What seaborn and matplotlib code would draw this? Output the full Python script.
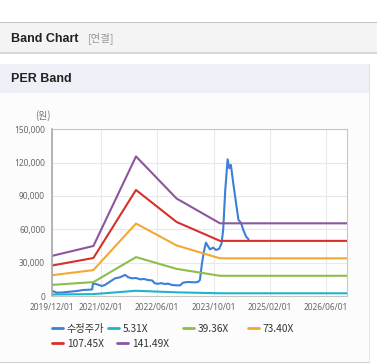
import matplotlib
matplotlib.use('Agg')
import matplotlib.pyplot as plt
from matplotlib.patches import Rectangle
from matplotlib.lines import Line2D
import pandas as pd
import seaborn as sns

W, H = 377, 364

# adjusted share price (months counted from the left edge of the plot)
price_month = [0, 0.5, 1.2, 2.7, 4.5, 6.2, 7.7, 9.5, 10.0, 10.2, 11.2, 12.4, 13.2,
               14.4, 15.7, 16.9, 18.2, 18.9, 19.9, 20.9, 21.9, 22.9, 23.9, 24.9,
               25.6, 26.4, 27.1, 28.1, 28.9, 29.9, 30.9, 31.9, 32.6, 33.8, 35.6,
               36.3, 36.8, 37.3, 37.8, 38.3, 39.3, 40.1, 40.8, 41.6, 42.2, 42.6,
               43.1, 43.7, 44.1, 44.5, 45.1, 45.8, 46.4, 47.0, 47.6, 48.3, 48.9]
price_value = [4500, 4000, 3000, 3200, 3900, 4500, 5400, 5700, 6000, 11400, 10500,
               9000, 10000, 12900, 15900, 16800, 19000, 17000, 15900, 16200, 15000,
               15300, 14400, 14000, 11400, 11000, 11600, 10800, 11100, 9900, 9600,
               9600, 12000, 12600, 12300, 12600, 14400, 29000, 40000, 48000, 42000,
               43500, 41400, 42500, 47400, 60000, 95000, 123000, 115000, 118000,
               101400, 83400, 68400, 66000, 59400, 53400, 51000]

# PER band break points
band_month = [0, 10.3, 20.9, 31.0, 41.8, 73.4]
band_531 = [1350, 1700, 4700, 3300, 2450, 2450]
band_3936 = [10000, 12500, 35000, 24400, 18200, 18200]
band_7340 = [18700, 23300, 65200, 45500, 33900, 33900]
band_10745 = [27400, 34200, 95400, 66600, 49600, 49600]
band_14149 = [36100, 45000, 125600, 87700, 65400, 65400]

series_names = ['수정주가', '5.31X', '39.36X', '73.40X', '107.45X', '141.49X']
series_colors = ['#3b7fd6', '#1fb4c9', '#8dbd4a', '#f3a833', '#d6302b', '#8c559d']

tick_months = [0, 12.2, 26.1, 40.3, 54.2, 68.2]
tick_labels = ['2019/12/01', '2021/02/01', '2022/06/01', '2023/10/01',
               '2025/02/01', '2026/06/01']
y_ticks = [0, 30000, 60000, 90000, 120000, 150000]

frames = [pd.DataFrame({'month': price_month, 'value': price_value,
                        'series': series_names[0]})]
for name, vals in zip(series_names[1:],
                      [band_531, band_3936, band_7340, band_10745, band_14149]):
    frames.append(pd.DataFrame({'month': band_month, 'value': vals, 'series': name}))
df = pd.concat(frames, ignore_index=True)

sns.set_style('white')
plt.rcParams['font.family'] = ['Noto Sans', 'Noto Sans CJK KR', 'DejaVu Sans']

fig = plt.figure(figsize=(W / 100, H / 100), dpi=100)


def box(x0, y0, x1, y1, color):
    fig.add_artist(Rectangle((x0 / W, 1 - y1 / H), (x1 - x0) / W, (y1 - y0) / H,
                             transform=fig.transFigure, facecolor=color,
                             edgecolor='none', zorder=0))


# page furniture
box(0, 22, W, 23, '#c4c4c4')
box(0, 23, W, 52, '#f4f4f4')
box(0, 52, W, 54, '#d6d6d6')
box(0, 64, 369, 93, '#edf1f7')
box(0, 93, 369, 362, '#fcfcfc')
box(369, 64, 370, 362, '#e4e4e4')
box(0, 362, 370, 363, '#d0d0d0')

fig.text(11 / W, 1 - 38.5 / H, 'Band Chart', fontsize=9, fontweight='bold',
         color='#222', va='center', family=['Liberation Sans', 'DejaVu Sans'])
fig.text(88 / W, 1 - 38.5 / H, '[연결]', fontsize=7.5, color='#999', va='center',
         family=['Noto Sans CJK KR', 'DejaVu Sans'])
fig.text(11 / W, 1 - 79 / H, 'PER Band', fontsize=9, fontweight='bold',
         color='#222', va='center', family=['Liberation Sans', 'DejaVu Sans'])
fig.text(43 / W, 1 - 116 / H, '(원)', fontsize=7, color='#777', ha='center',
         va='center', family=['Noto Sans CJK KR', 'DejaVu Sans'])

ax = fig.add_axes([52 / W, 1 - 296 / H, (347 - 52) / W, (296 - 129.3) / H])
ax.set_facecolor('white')

sns.lineplot(data=df, x='month', y='value', hue='series', hue_order=series_names,
             palette=series_colors, estimator=None, sort=False, linewidth=1.5,
             legend=False, ax=ax)

ax.set_xlim(0, 73.4)
ax.set_ylim(0, 150000)
ax.set_xticks(tick_months)
ax.set_xticklabels(tick_labels)
ax.set_yticks(y_ticks)
ax.set_yticklabels([f'{v:,}' for v in y_ticks])
ax.set_xlabel('')
ax.set_ylabel('')
ax.grid(True, color='#e9e9e9', linewidth=0.8)
ax.tick_params(axis='y', length=3, width=0.8, color='#aaa', labelsize=6,
               labelcolor='#666', pad=2)
ax.tick_params(axis='x', length=0, labelsize=6, labelcolor='#666', pad=5)
for side in ['top', 'right', 'bottom']:
    ax.spines[side].set_color('#c6c6c6')
    ax.spines[side].set_linewidth(0.8)
ax.spines['left'].set_color('#a8a8a8')
ax.spines['left'].set_linewidth(1.2)

# legend items, one per entry to follow the reference spacing
legend_pos = [(52, 329), (108, 329), (183, 329), (248, 329), (52, 344), (117, 344)]
for name, color, (lx, ly) in zip(series_names, series_colors, legend_pos):
    fig.legend(handles=[Line2D([], [], color=color, linewidth=2)], labels=[name],
               loc='center left', bbox_to_anchor=(lx / W, 1 - ly / H),
               frameon=False, borderpad=0, borderaxespad=0, handlelength=1.1,
               handletextpad=0.35, prop={'family': ['Noto Sans CJK KR', 'DejaVu Sans'],
                                         'size': 7.3},
               labelcolor='#333')

fig.savefig('out.png', dpi=100)
